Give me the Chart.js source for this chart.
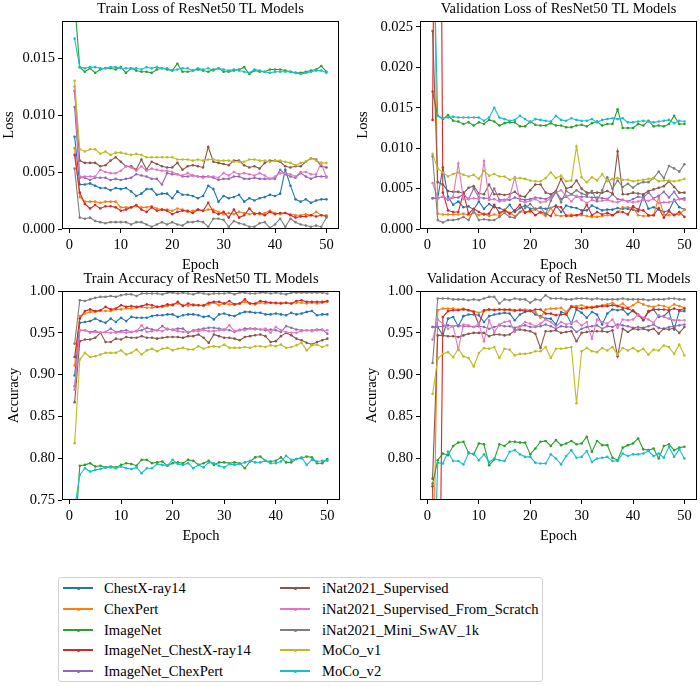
<!DOCTYPE html>
<html><head><meta charset="utf-8">
<script src="https://cdn.jsdelivr.net/npm/chart.js@4"></script>
<style>
html,body{margin:0;padding:0;background:#fff;width:700px;height:687px;overflow:hidden;}
canvas{position:absolute;}
#legend{position:absolute;left:58px;top:577px;width:485px;height:105px;border:1px solid #d3d3d3;border-radius:3px;box-sizing:border-box;}
.li{position:absolute;font-family:'Liberation Serif','Times New Roman',serif;font-size:14.6px;line-height:16px;color:#000;white-space:nowrap;}
.ln{position:absolute;height:1.4px;width:30px;}
.dt{position:absolute;width:3px;height:3px;border-radius:50%;}
</style></head>
<body>
<canvas id="c0" width="350" height="274" style="left:0;top:0"></canvas>
<canvas id="c1" width="350" height="274" style="left:350px;top:0"></canvas>
<canvas id="c2" width="350" height="275" style="left:0;top:270px"></canvas>
<canvas id="c3" width="350" height="275" style="left:350px;top:270px"></canvas>
<div id="legend"></div>
<script>
const epochs = [1,2,3,4,5,6,7,8,9,10,11,12,13,14,15,16,17,18,19,20,21,22,23,24,25,26,27,28,29,30,31,32,33,34,35,36,37,38,39,40,41,42,43,44,45,46,47,48,49,50];
const seriesNames = ['ChestX-ray14','ChexPert','ImageNet','ImageNet_ChestX-ray14','ImageNet_ChexPert','iNat2021_Supervised','iNat2021_Supervised_From_Scratch','iNat2021_Mini_SwAV_1k','MoCo_v1','MoCo_v2'];
const seriesColors = ['#1f77b4','#ff7f0e','#2ca02c','#d62728','#9467bd','#8c564b','#e377c2','#7f7f7f','#bcbd22','#17becf'];
const xTicks = [0,10,20,30,40,50];
const lossTicksTrain = [0,0.005,0.010,0.015];
const lossTicksVal = [0,0.005,0.010,0.015,0.020,0.025];
const accTicksTrain = [0.75,0.80,0.85,0.90,0.95,1.00];
const accTicksVal = [0.80,0.85,0.90,0.95,1.00];

// ---- Train loss ----
const trainLossChestX = [.0081,.0039,.0039,.0040,.0038,.0036,.0036,.0034,.0036,.0035,.0036,.0033,.0029,.0031,.0035,.0035,.0030,.0031,.0031,.0027,.0033,.0030,.0030,.0029,.0027,.0029,.0038,.0035,.0024,.0029,.0027,.0028,.0030,.0024,.0027,.0025,.0027,.0028,.0030,.0029,.0031,.0052,.0038,.0026,.0024,.0026,.0023,.0025,.0026,.0026];
const trainLossChexPert = [.0071,.0028,.0024,.0024,.0024,.0023,.0024,.0024,.0024,.0019,.0019,.0019,.0020,.0019,.0019,.0020,.0018,.0017,.0017,.0016,.0018,.0017,.0015,.0016,.0017,.0016,.0017,.0017,.0015,.0013,.0014,.0013,.0015,.0014,.0013,.0014,.0013,.0014,.0016,.0014,.0013,.0014,.0013,.0012,.0012,.0013,.0012,.0015,.0012,.0012];
const trainLossImageNet = [.0200,.0142,.0138,.0141,.0137,.0140,.0141,.0141,.0140,.0142,.0137,.0141,.0139,.0138,.0138,.0137,.0140,.0141,.0140,.0139,.0145,.0138,.0138,.0139,.0140,.0139,.0138,.0140,.0141,.0138,.0138,.0139,.0140,.0142,.0136,.0139,.0138,.0138,.0140,.0140,.0140,.0139,.0138,.0137,.0137,.0138,.0139,.0140,.0143,.0138];
const trainLossINChestX = [.0065,.0032,.0022,.0018,.0021,.0018,.0020,.0020,.0019,.0016,.0017,.0019,.0021,.0017,.0015,.0019,.0016,.0017,.0016,.0013,.0015,.0016,.0016,.0014,.0017,.0016,.0023,.0015,.0013,.0015,.0010,.0017,.0010,.0012,.0018,.0013,.0014,.0012,.0015,.0013,.0014,.0014,.0012,.0010,.0011,.0011,.0012,.0011,.0012,.0011];
const trainLossINChexPert = [.0107,.0045,.0045,.0043,.0045,.0045,.0045,.0043,.0044,.0043,.0044,.0045,.0048,.0047,.0046,.0044,.0044,.0039,.0049,.0048,.0048,.0046,.0046,.0047,.0046,.0046,.0046,.0045,.0043,.0044,.0044,.0046,.0046,.0044,.0044,.0045,.0044,.0044,.0044,.0044,.0052,.0048,.0046,.0045,.0049,.0046,.0044,.0046,.0046,.0046];
const trainLossINatSup = [.0121,.0060,.0058,.0058,.0058,.0055,.0056,.0060,.0063,.0059,.0055,.0055,.0052,.0061,.0052,.0059,.0057,.0055,.0054,.0054,.0058,.0052,.0055,.0056,.0055,.0054,.0072,.0059,.0058,.0057,.0056,.0060,.0060,.0056,.0054,.0055,.0053,.0058,.0060,.0060,.0059,.0055,.0054,.0055,.0055,.0059,.0062,.0061,.0055,.0054];
const trainLossINatScratch = [.0125,.0046,.0046,.0046,.0046,.0052,.0050,.0049,.0049,.0051,.0055,.0054,.0051,.0055,.0051,.0053,.0052,.0051,.0051,.0050,.0048,.0047,.0049,.0047,.0046,.0045,.0046,.0046,.0045,.0049,.0047,.0050,.0048,.0049,.0048,.0047,.0049,.0047,.0044,.0046,.0049,.0049,.0048,.0046,.0050,.0050,.0048,.0048,.0058,.0045];
const trainLossSwAV = [.0053,.0010,.0009,.0010,.0007,.0006,.0005,.0006,.0006,.0006,.0006,.0004,.0006,.0006,.0004,.0002,.0004,.0006,.0004,.0006,.0004,.0003,.0006,.0006,.0007,.0006,.0002,.0009,.0009,.0008,.0002,.0007,.0005,.0004,.0002,.0002,.0005,.0006,.0001,.0004,.0009,.0002,.0009,.0006,.0004,.0003,.0002,.0003,.0002,.0010];
const trainLossMoCo1 = [.0130,.0070,.0068,.0070,.0070,.0066,.0068,.0065,.0067,.0067,.0066,.0065,.0066,.0065,.0063,.0063,.0063,.0063,.0063,.0063,.0061,.0061,.0061,.0060,.0061,.0060,.0061,.0061,.0060,.0060,.0060,.0059,.0059,.0059,.0061,.0061,.0060,.0060,.0059,.0060,.0060,.0059,.0058,.0056,.0058,.0059,.0062,.0060,.0058,.0058];
const trainLossMoCo2 = [.0167,.0142,.0141,.0142,.0142,.0141,.0141,.0142,.0142,.0141,.0141,.0141,.0141,.0140,.0142,.0141,.0142,.0141,.0141,.0139,.0140,.0141,.0141,.0139,.0141,.0140,.0141,.0139,.0141,.0140,.0139,.0140,.0139,.0138,.0137,.0140,.0139,.0138,.0137,.0138,.0138,.0138,.0138,.0137,.0136,.0137,.0138,.0139,.0139,.0137];

// ---- Validation loss ----
const valLossChestX = [.0038,.0038,.0076,.0040,.0030,.0034,.0027,.0028,.0024,.0034,.0025,.0031,.0027,.0026,.0023,.0030,.0021,.0026,.0029,.0025,.0025,.0026,.0025,.0026,.0029,.0021,.0029,.0027,.0026,.0023,.0023,.0029,.0026,.0023,.0024,.0024,.0026,.0025,.0025,.0024,.0022,.0041,.0025,.0027,.0024,.0021,.0023,.0036,.0027,.0024];
const valLossChexPert = [.0500,.0019,.0018,.0018,.0018,.0018,.0019,.0017,.0020,.0017,.0019,.0016,.0018,.0017,.0024,.0020,.0016,.0021,.0021,.0021,.0025,.0020,.0016,.0026,.0017,.0016,.0017,.0018,.0017,.0017,.0016,.0015,.0015,.0016,.0017,.0017,.0021,.0027,.0027,.0026,.0017,.0016,.0016,.0017,.0039,.0018,.0017,.0018,.0018,.0024];
const valLossImageNet = [.0170,.0140,.0136,.0141,.0134,.0133,.0130,.0132,.0128,.0132,.0130,.0135,.0133,.0128,.0131,.0132,.0132,.0127,.0127,.0133,.0129,.0128,.0128,.0131,.0128,.0128,.0126,.0126,.0128,.0129,.0127,.0131,.0133,.0128,.0130,.0130,.0148,.0125,.0125,.0125,.0130,.0128,.0134,.0127,.0128,.0127,.0130,.0140,.0130,.0130];
const valLossINChestX = [.0135,.1000,.0045,.0023,.0021,.0021,.0045,.0019,.0025,.0021,.0018,.0019,.0030,.0020,.0023,.0019,.0023,.0030,.0020,.0023,.0017,.0021,.0019,.0016,.0028,.0027,.0016,.0016,.0017,.0019,.0030,.0017,.0021,.0018,.0020,.0017,.0021,.0021,.0018,.0028,.0024,.0023,.0017,.0017,.0026,.0014,.0022,.0017,.0021,.0015];
const valLossINChexPert = [.0038,.0038,.0040,.0036,.0039,.0039,.0043,.0037,.0050,.0039,.0038,.0038,.0050,.0036,.0036,.0036,.0039,.0037,.0036,.0037,.0039,.0038,.0037,.0040,.0046,.0037,.0040,.0043,.0040,.0040,.0040,.0039,.0039,.0038,.0037,.0043,.0037,.0036,.0034,.0037,.0040,.0039,.0045,.0038,.0041,.0046,.0039,.0046,.0037,.0038];
const valLossINatSup = [.0245,.0058,.0055,.0047,.0046,.0046,.0044,.0051,.0053,.0044,.0043,.0055,.0043,.0043,.0042,.0043,.0046,.0041,.0040,.0048,.0055,.0055,.0045,.0043,.0047,.0062,.0050,.0052,.0060,.0050,.0045,.0045,.0045,.0045,.0047,.0044,.0096,.0043,.0043,.0045,.0044,.0043,.0047,.0049,.0051,.0053,.0059,.0052,.0045,.0045];
const valLossINatScratch = [.0057,.0038,.0040,.0037,.0040,.0081,.0037,.0037,.0038,.0037,.0084,.0036,.0037,.0034,.0035,.0040,.0064,.0035,.0033,.0035,.0037,.0033,.0034,.0038,.0045,.0048,.0041,.0034,.0041,.0036,.0032,.0036,.0034,.0035,.0036,.0034,.0033,.0036,.0034,.0033,.0034,.0036,.0035,.0037,.0032,.0033,.0033,.0035,.0037,.0036];
const valLossSwAV = [.0090,.0011,.0008,.0011,.0011,.0012,.0015,.0011,.0023,.0011,.0012,.0011,.0011,.0015,.0020,.0015,.0014,.0021,.0026,.0031,.0024,.0027,.0018,.0035,.0046,.0033,.0047,.0043,.0048,.0044,.0042,.0047,.0035,.0048,.0064,.0050,.0060,.0052,.0056,.0051,.0056,.0058,.0058,.0063,.0071,.0063,.0078,.0075,.0071,.0080];
const valLossMoCo1 = [.0093,.0075,.0070,.0065,.0068,.0070,.0067,.0065,.0067,.0062,.0072,.0066,.0068,.0065,.0065,.0061,.0063,.0063,.0062,.0060,.0059,.0059,.0063,.0070,.0063,.0066,.0059,.0060,.0102,.0064,.0058,.0064,.0060,.0068,.0059,.0062,.0063,.0061,.0061,.0059,.0060,.0061,.0062,.0063,.0059,.0060,.0060,.0059,.0060,.0062];
const valLossMoCo2 = [.0400,.0140,.0137,.0138,.0139,.0138,.0138,.0138,.0138,.0138,.0134,.0138,.0150,.0138,.0136,.0134,.0135,.0140,.0136,.0132,.0136,.0135,.0134,.0133,.0140,.0135,.0134,.0137,.0135,.0134,.0134,.0136,.0132,.0135,.0136,.0137,.0136,.0137,.0132,.0132,.0133,.0134,.0133,.0132,.0133,.0134,.0135,.0131,.0134,.0133];

// ---- Train accuracy ----
const trainAccChestX = [.899,.962,.963,.964,.967,.964,.962,.967,.963,.968,.964,.969,.968,.968,.968,.970,.971,.971,.972,.972,.969,.971,.972,.972,.971,.969,.970,.966,.972,.973,.971,.970,.973,.975,.975,.974,.974,.972,.972,.973,.972,.971,.974,.972,.973,.975,.976,.971,.972,.972];
const trainAccChexPert = [.911,.970,.973,.975,.975,.976,.976,.976,.978,.978,.979,.979,.980,.981,.980,.980,.981,.981,.982,.984,.985,.983,.982,.984,.983,.982,.984,.986,.983,.985,.984,.984,.985,.987,.985,.984,.986,.985,.986,.985,.986,.986,.985,.986,.986,.985,.986,.985,.986,.987];
const trainAccImageNet = [.700,.791,.792,.794,.790,.791,.789,.790,.789,.792,.794,.793,.791,.798,.798,.794,.795,.796,.791,.794,.795,.794,.798,.797,.792,.794,.797,.792,.795,.795,.794,.795,.794,.788,.796,.801,.802,.797,.796,.797,.801,.795,.795,.799,.800,.802,.801,.794,.794,.799];
const trainAccINChestX = [.921,.967,.976,.978,.976,.977,.981,.978,.979,.983,.981,.982,.981,.982,.984,.983,.981,.982,.984,.983,.987,.982,.985,.983,.983,.983,.986,.987,.987,.985,.988,.984,.985,.990,.985,.985,.988,.987,.986,.986,.985,.986,.985,.988,.989,.987,.987,.987,.987,.988];
const trainAccINChexPert = [.886,.953,.953,.951,.952,.950,.951,.955,.951,.952,.953,.951,.952,.953,.956,.954,.953,.958,.954,.954,.955,.955,.950,.953,.954,.955,.956,.956,.955,.954,.953,.951,.953,.955,.955,.955,.954,.953,.954,.953,.951,.958,.956,.954,.953,.953,.953,.954,.954,.949];
const trainAccINatSup = [.867,.940,.942,.942,.944,.950,.939,.939,.943,.942,.945,.944,.944,.946,.944,.944,.943,.944,.945,.945,.945,.944,.946,.946,.948,.944,.938,.948,.946,.944,.944,.943,.941,.945,.946,.947,.948,.946,.939,.940,.946,.950,.947,.943,.941,.938,.936,.939,.941,.943];
const trainAccINatScratch = [.882,.953,.953,.950,.951,.950,.951,.950,.950,.951,.950,.951,.952,.959,.951,.952,.953,.952,.955,.953,.952,.951,.951,.952,.952,.953,.952,.952,.953,.953,.959,.952,.954,.953,.955,.954,.954,.955,.950,.957,.953,.951,.950,.950,.952,.953,.952,.953,.953,.953];
const trainAccSwAV = [.937,.989,.988,.990,.992,.993,.993,.994,.993,.995,.996,.996,.994,.997,.997,.997,.997,.996,.998,.998,.997,.998,.997,.996,.998,.997,.996,.997,.997,.997,.998,.996,.998,.998,.997,.997,.998,.998,.997,.998,.997,.996,.998,.998,.998,.998,.998,.998,.998,.997];
const trainAccMoCo1 = [.818,.918,.926,.921,.922,.924,.926,.926,.926,.929,.924,.926,.930,.924,.929,.931,.928,.931,.932,.929,.931,.932,.930,.930,.934,.931,.933,.934,.933,.936,.932,.932,.932,.933,.932,.934,.934,.933,.935,.934,.936,.932,.933,.935,.938,.929,.935,.936,.933,.935];
const trainAccMoCo2 = [.740,.780,.788,.784,.786,.787,.789,.789,.788,.790,.788,.787,.789,.782,.788,.788,.793,.792,.791,.798,.793,.792,.794,.788,.792,.789,.795,.794,.791,.789,.793,.792,.793,.795,.797,.795,.795,.797,.794,.794,.796,.803,.798,.799,.801,.792,.798,.796,.797,.797];

// ---- Validation accuracy ----
const valAccChestX = [.957,.957,.947,.967,.969,.958,.970,.972,.972,.971,.963,.970,.972,.973,.974,.973,.965,.972,.975,.977,.972,.970,.967,.967,.960,.975,.973,.961,.978,.974,.968,.975,.972,.960,.973,.978,.977,.978,.972,.977,.972,.965,.975,.978,.969,.970,.976,.954,.976,.976];
const valAccChexPert = [.600,.977,.979,.979,.979,.978,.979,.977,.976,.974,.976,.978,.978,.978,.977,.977,.976,.978,.978,.977,.975,.968,.978,.979,.979,.980,.975,.982,.982,.983,.981,.981,.982,.983,.984,.986,.982,.985,.980,.983,.987,.984,.982,.981,.983,.982,.980,.984,.982,.980];
const valAccImageNet = [.770,.798,.806,.804,.815,.819,.820,.807,.805,.818,.817,.792,.799,.817,.815,.820,.820,.819,.819,.805,.812,.820,.821,.815,.822,.816,.818,.821,.817,.818,.826,.808,.821,.816,.816,.801,.798,.813,.816,.818,.824,.811,.810,.812,.800,.815,.817,.810,.813,.814];
const valAccINChestX = [.767,.400,.969,.976,.977,.977,.978,.977,.975,.960,.977,.978,.977,.978,.978,.978,.977,.977,.976,.976,.978,.978,.973,.973,.971,.972,.972,.981,.980,.979,.980,.980,.981,.982,.982,.983,.982,.980,.979,.976,.971,.966,.976,.978,.978,.978,.977,.979,.977,.979];
const valAccINChexPert = [.957,.957,.958,.959,.958,.959,.958,.958,.957,.958,.957,.955,.957,.959,.958,.958,.956,.958,.959,.957,.957,.958,.960,.958,.955,.958,.957,.957,.951,.955,.957,.958,.959,.955,.958,.957,.960,.959,.958,.956,.957,.956,.958,.960,.956,.955,.957,.958,.959,.960];
const valAccINatSup = [.776,.947,.947,.946,.946,.945,.947,.949,.950,.950,.950,.946,.948,.948,.947,.948,.953,.954,.953,.952,.949,.932,.952,.952,.953,.950,.951,.952,.940,.950,.951,.952,.952,.952,.951,.953,.922,.955,.951,.955,.954,.955,.953,.955,.949,.955,.954,.956,.950,.957];
const valAccINatScratch = [.942,.966,.961,.955,.958,.930,.960,.959,.957,.961,.940,.965,.951,.960,.963,.964,.951,.958,.963,.961,.958,.961,.966,.963,.958,.963,.960,.962,.964,.959,.963,.943,.966,.963,.961,.966,.956,.966,.965,.966,.972,.968,.966,.962,.971,.969,.967,.965,.965,.965];
const valAccSwAV = [.914,.991,.991,.991,.990,.990,.990,.989,.990,.989,.991,.993,.993,.985,.990,.989,.991,.990,.990,.986,.990,.989,.995,.991,.991,.991,.990,.990,.991,.991,.991,.990,.991,.990,.990,.990,.990,.991,.990,.990,.990,.990,.989,.990,.990,.990,.991,.991,.990,.990];
const valAccMoCo1 = [.877,.919,.925,.927,.921,.931,.922,.920,.910,.926,.932,.931,.933,.920,.931,.930,.923,.925,.925,.926,.928,.928,.933,.920,.931,.931,.932,.933,.866,.928,.932,.928,.927,.932,.929,.933,.924,.932,.929,.932,.928,.931,.924,.930,.929,.935,.933,.925,.936,.923];
const valAccMoCo2 = [.600,.795,.794,.808,.797,.797,.793,.806,.806,.798,.805,.796,.800,.798,.797,.808,.810,.805,.802,.802,.795,.794,.794,.805,.800,.793,.803,.810,.801,.802,.809,.796,.800,.801,.802,.797,.797,.806,.803,.805,.805,.806,.809,.803,.806,.801,.814,.802,.811,.800];

const trainLossSeries = [trainLossChestX,trainLossChexPert,trainLossImageNet,trainLossINChestX,trainLossINChexPert,trainLossINatSup,trainLossINatScratch,trainLossSwAV,trainLossMoCo1,trainLossMoCo2];
const valLossSeries = [valLossChestX,valLossChexPert,valLossImageNet,valLossINChestX,valLossINChexPert,valLossINatSup,valLossINatScratch,valLossSwAV,valLossMoCo1,valLossMoCo2];
const trainAccSeries = [trainAccChestX,trainAccChexPert,trainAccImageNet,trainAccINChestX,trainAccINChexPert,trainAccINatSup,trainAccINatScratch,trainAccSwAV,trainAccMoCo1,trainAccMoCo2];
const valAccSeries = [valAccChestX,valAccChexPert,valAccImageNet,valAccINChestX,valAccINChexPert,valAccINatSup,valAccINatScratch,valAccSwAV,valAccMoCo1,valAccMoCo2];

const FONT = "'Liberation Serif','Times New Roman',serif";
Chart.defaults.font.family = FONT;
Chart.defaults.color = '#000';

const framePlugin = {
  id: 'frame',
  afterDatasetsDraw(chart) {
    const {ctx, chartArea: a} = chart;
    ctx.save();
    ctx.strokeStyle = '#000';
    ctx.lineWidth = 1;
    ctx.strokeRect(Math.round(a.left) + 0.5, Math.round(a.top) + 0.5, Math.round(a.right - a.left) - 1, Math.round(a.bottom - a.top) - 1);
    ctx.restore();
  }
};

function makeChart(id, o) {
  const datasets = o.series.map((arr, i) => ({
    label: seriesNames[i],
    data: epochs.map((e, k) => ({x: e, y: arr[k]})),
    borderColor: seriesColors[i],
    backgroundColor: seriesColors[i],
    pointBackgroundColor: seriesColors[i],
    borderWidth: 1.1,
    pointRadius: 1.3,
    pointBorderWidth: 0,
    pointHoverRadius: 0,
    tension: 0,
    fill: false,
    clip: 0,
    order: 10 - i
  }));
  return new Chart(document.getElementById(id), {
    type: 'line',
    data: {datasets},
    plugins: [framePlugin],
    options: {
      responsive: false, animation: false, devicePixelRatio: 1,
      events: [],
      layout: {autoPadding: false, padding: {left: 0, right: o.padRight, top: 0, bottom: 0}},
      plugins: {
        legend: {display: false}, tooltip: {enabled: false},
        title: {display: true, fullSize: false, text: o.title, color: '#000', font: {size: 14.5, weight: 'normal', family: FONT, lineHeight: 1.2}, padding: {top: 0, bottom: 3.6}}
      },
      scales: {
        x: {
          type: 'linear', min: -1.45, max: 52.45,
          afterBuildTicks: s => { s.ticks = xTicks.map(v => ({value: v})); },
          afterFit: s => { s.height = o.xH; },
          ticks: {callback: v => String(v), font: {size: 14.5}, padding: 3, maxRotation: 0, color: '#000'},
          grid: {drawOnChartArea: false, drawTicks: true, tickLength: 4, tickColor: '#000', color: '#000', lineWidth: 1},
          border: {display: false},
          title: {display: true, text: 'Epoch', font: {size: 14.5, lineHeight: 1.2}, padding: {top: 0, bottom: 0}, color: '#000'}
        },
        y: {
          type: 'linear', min: o.yMin, max: o.yMax,
          afterBuildTicks: s => { s.ticks = o.yTicks.map(v => ({value: v})); },
          afterFit: s => { s.width = o.yW; },
          ticks: {callback: v => v.toFixed(o.dec), font: {size: 14.5}, padding: 3, color: '#000'},
          grid: {drawOnChartArea: false, drawTicks: true, tickLength: 4, tickColor: '#000', color: '#000', lineWidth: 1},
          border: {display: false},
          title: {display: true, text: o.yLabel, font: {size: 14.5, lineHeight: 1.2}, padding: {top: o.yTitlePad, bottom: 0}, color: '#000'}
        }
      }
    }
  });
}

makeChart('c0', {series: trainLossSeries, title: 'Train Loss of ResNet50 TL Models', yLabel: 'Loss', yMin: 0, yMax: 0.01825, yTicks: lossTicksTrain, dec: 3, yW: 62, padRight: 11, xH: 45, yTitlePad: 0});
makeChart('c1', {series: valLossSeries, title: 'Validation Loss of ResNet50 TL Models', yLabel: 'Loss', yMin: 0, yMax: 0.02574, yTicks: lossTicksVal, dec: 3, yW: 70, padRight: 3, xH: 45, yTitlePad: 4.6});
makeChart('c2', {series: trainAccSeries, title: 'Train Accuracy of ResNet50 TL Models', yLabel: 'Accuracy', yMin: 0.75, yMax: 1.0, yTicks: accTicksTrain, dec: 2, yW: 62, padRight: 10, xH: 45, yTitlePad: 5});
makeChart('c3', {series: valAccSeries, title: 'Validation Accuracy of ResNet50 TL Models', yLabel: 'Accuracy', yMin: 0.7505, yMax: 1.0, yTicks: accTicksVal, dec: 2, yW: 70, padRight: 3, xH: 45, yTitlePad: 13.6});

// legend
const legend = document.getElementById('legend');
const rowsY = [588, 609, 630, 650, 671];
seriesNames.forEach((name, i) => {
  const col = Math.floor(i / 5), row = i % 5;
  const lineX = col === 0 ? 63 : 280;
  const textX = col === 0 ? 104 : 322;
  const cy = rowsY[row] - 577 - 1;
  const ln = document.createElement('div');
  ln.className = 'ln';
  ln.style.left = (lineX - 58 - 1) + 'px';
  ln.style.top = (cy - 0.7) + 'px';
  ln.style.background = seriesColors[i];
  legend.appendChild(ln);
  const dt = document.createElement('div');
  dt.className = 'dt';
  dt.style.left = (lineX - 58 - 1 + 13.5) + 'px';
  dt.style.top = (cy - 1.5) + 'px';
  dt.style.background = seriesColors[i];
  legend.appendChild(dt);
  const tx = document.createElement('div');
  tx.className = 'li';
  tx.style.left = (textX - 58 - 1) + 'px';
  tx.style.top = (cy - 8) + 'px';
  tx.textContent = name;
  legend.appendChild(tx);
});
</script>
</body></html>
